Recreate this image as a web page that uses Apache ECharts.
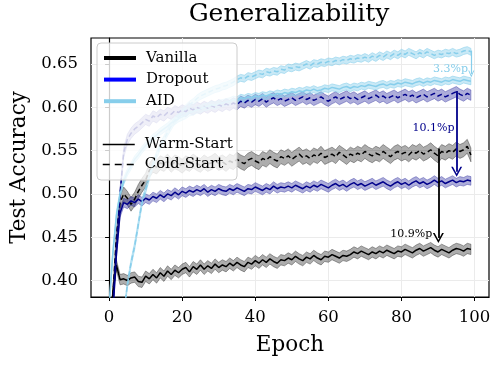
<!DOCTYPE html>
<html>
<head>
    <meta charset="utf-8">
    <title>Generalizability</title>
    <script src="https://cdn.jsdelivr.net/npm/echarts@6/dist/echarts.min.js"></script>
    <style>
        html, body { margin: 0; padding: 0; background: #fff; }
        #chart { width: 499px; height: 365px; }
    </style>
</head>
<body>
<div id="chart"></div>
<script>
    // epochs 0..99
    var epochs = [];
    for (var e = 0; e < 100; e++) epochs.push(e);

    var xTicks = [0, 20, 40, 60, 80, 100];
    var yTicks = [0.40, 0.45, 0.50, 0.55, 0.60, 0.65];

    // Vanilla, warm-start
    var vanillaWarm = [0.300,0.385,0.418,0.401,0.402,0.400,0.403,0.404,0.399,0.398,
        0.405,0.402,0.407,0.403,0.409,0.405,0.411,0.407,0.412,0.409,
        0.413,0.415,0.410,0.416,0.413,0.418,0.413,0.417,0.414,0.419,
        0.415,0.418,0.416,0.420,0.417,0.421,0.418,0.416,0.421,0.419,
        0.423,0.420,0.424,0.421,0.425,0.422,0.420,0.424,0.423,0.426,
        0.424,0.428,0.425,0.423,0.427,0.425,0.429,0.426,0.424,0.428,
        0.427,0.430,0.428,0.426,0.429,0.428,0.430,0.433,0.431,0.434,
        0.432,0.430,0.433,0.431,0.434,0.432,0.435,0.433,0.431,0.434,
        0.433,0.436,0.434,0.432,0.435,0.437,0.434,0.436,0.438,0.435,
        0.433,0.436,0.434,0.432,0.435,0.437,0.436,0.434,0.437,0.436];
    // Vanilla, cold-start
    var vanillaCold = [0.300,0.380,0.450,0.490,0.500,0.495,0.488,0.494,0.503,0.510,
        0.516,0.527,0.533,0.531,0.536,0.534,0.538,0.533,0.537,0.535,
        0.532,0.536,0.534,0.538,0.535,0.533,0.537,0.534,0.536,0.539,
        0.535,0.537,0.534,0.538,0.536,0.540,0.537,0.535,0.539,0.541,
        0.538,0.536,0.541,0.539,0.543,0.540,0.538,0.543,0.541,0.544,
        0.540,0.543,0.546,0.542,0.544,0.541,0.545,0.543,0.547,0.542,
        0.544,0.546,0.543,0.548,0.545,0.542,0.546,0.544,0.547,0.545,
        0.549,0.546,0.544,0.547,0.545,0.549,0.546,0.543,0.547,0.549,
        0.546,0.548,0.545,0.549,0.547,0.550,0.546,0.548,0.551,0.547,
        0.544,0.549,0.547,0.550,0.548,0.552,0.549,0.551,0.555,0.545];
    // Dropout, warm-start
    var dropoutWarm = [0.300,0.360,0.430,0.478,0.490,0.488,0.492,0.490,0.494,0.491,
        0.495,0.493,0.497,0.495,0.499,0.496,0.500,0.498,0.502,0.499,
        0.503,0.501,0.504,0.502,0.505,0.503,0.506,0.502,0.505,0.503,
        0.506,0.504,0.503,0.506,0.504,0.507,0.505,0.503,0.506,0.505,
        0.508,0.506,0.504,0.507,0.505,0.509,0.506,0.508,0.507,0.509,
        0.507,0.510,0.508,0.506,0.509,0.507,0.510,0.508,0.511,0.509,
        0.507,0.510,0.512,0.509,0.511,0.508,0.511,0.513,0.510,0.512,
        0.509,0.511,0.513,0.510,0.512,0.514,0.511,0.509,0.512,0.514,
        0.511,0.513,0.510,0.513,0.515,0.512,0.514,0.511,0.513,0.516,
        0.513,0.515,0.512,0.514,0.516,0.513,0.515,0.514,0.516,0.515];
    // Dropout, cold-start
    var dropoutCold = [0.300,0.370,0.440,0.500,0.548,0.563,0.570,0.575,0.578,0.582,
        0.586,0.584,0.590,0.588,0.592,0.590,0.594,0.592,0.596,0.594,
        0.597,0.595,0.599,0.597,0.600,0.598,0.601,0.599,0.602,0.600,
        0.603,0.601,0.604,0.602,0.605,0.603,0.607,0.605,0.608,0.606,
        0.609,0.607,0.610,0.606,0.609,0.611,0.608,0.610,0.607,0.609,
        0.611,0.608,0.610,0.612,0.609,0.611,0.608,0.610,0.612,0.609,
        0.607,0.610,0.612,0.609,0.611,0.613,0.610,0.612,0.609,0.611,
        0.613,0.610,0.612,0.614,0.611,0.613,0.610,0.612,0.614,0.611,
        0.613,0.615,0.612,0.614,0.611,0.613,0.615,0.612,0.614,0.616,
        0.613,0.615,0.612,0.614,0.616,0.618,0.615,0.613,0.616,0.614];
    // AID, warm-start
    var aidWarm = [0.370,0.430,0.475,0.500,0.515,0.525,0.532,0.540,0.545,0.551,
        0.556,0.560,0.565,0.568,0.572,0.575,0.578,0.582,0.584,0.587,
        0.589,0.591,0.594,0.595,0.597,0.598,0.600,0.601,0.603,0.602,
        0.604,0.605,0.606,0.607,0.609,0.608,0.611,0.610,0.612,0.611,
        0.613,0.612,0.614,0.613,0.615,0.614,0.616,0.615,0.617,0.616,
        0.618,0.617,0.619,0.618,0.620,0.619,0.621,0.619,0.620,0.622,
        0.621,0.623,0.622,0.621,0.623,0.624,0.622,0.624,0.623,0.625,
        0.624,0.626,0.625,0.624,0.626,0.627,0.625,0.627,0.626,0.628,
        0.627,0.629,0.628,0.627,0.629,0.630,0.628,0.630,0.629,0.631,
        0.630,0.629,0.631,0.630,0.632,0.631,0.630,0.632,0.631,0.630];
    // AID, cold-start
    var aidCold = [0.250,0.270,0.290,0.320,0.360,0.395,0.420,0.440,0.465,0.490,
        0.505,0.520,0.533,0.545,0.555,0.563,0.571,0.578,0.585,0.590,
        0.595,0.599,0.603,0.606,0.610,0.613,0.615,0.617,0.619,0.621,
        0.622,0.624,0.625,0.627,0.629,0.632,0.634,0.633,0.636,0.635,
        0.637,0.639,0.638,0.641,0.640,0.642,0.641,0.644,0.643,0.646,
        0.645,0.647,0.646,0.648,0.650,0.648,0.651,0.650,0.652,0.651,
        0.653,0.652,0.654,0.653,0.655,0.654,0.656,0.655,0.657,0.656,
        0.658,0.656,0.659,0.657,0.660,0.658,0.661,0.659,0.662,0.660,
        0.663,0.661,0.664,0.662,0.660,0.663,0.661,0.664,0.662,0.660,
        0.662,0.661,0.663,0.662,0.664,0.662,0.663,0.665,0.666,0.664];

    // half width of shaded band, per curve
    var bandStd = [0.006, 0.008, 0.005, 0.006, 0.004, 0.004];

    // gap annotations: [epoch, from, to, text, textEpoch, textY]
    var gapArrows = [
        [99.1, 0.6655, 0.6385, '3.3%p', 98.2, 0.6437],
        [95.1, 0.6187, 0.5255, '10.1%p', 94.5, 0.5755],
        [90.1, 0.5525, 0.4490, '10.9%p', 88.4, 0.4539]
    ];

    var FONT = "'DejaVu Serif', 'Liberation Serif', serif";
    var curves = [
        { data: vanillaWarm, line: '#000000', dash: 'solid', fill: 'rgba(0,0,0,0.32)', edge: 'rgba(0,0,0,0.42)' },
        { data: vanillaCold, line: '#000000', dash: [5, 3], fill: 'rgba(0,0,0,0.32)', edge: 'rgba(0,0,0,0.42)' },
        { data: dropoutWarm, line: '#00008b', dash: 'solid', fill: 'rgba(0,0,139,0.32)', edge: 'rgba(0,0,139,0.4)' },
        { data: dropoutCold, line: '#00008b', dash: [5, 3], fill: 'rgba(0,0,139,0.32)', edge: 'rgba(0,0,139,0.4)' },
        { data: aidWarm, line: '#87ceeb', dash: 'solid', fill: 'rgba(135,206,235,0.45)', edge: 'rgba(135,206,235,0.7)' },
        { data: aidCold, line: '#87ceeb', dash: [5, 3], fill: 'rgba(135,206,235,0.45)', edge: 'rgba(135,206,235,0.7)' }
    ];

    var series = [];
    // shaded bands (mean +- std) drawn as polygons through the axis scales
    curves.forEach(function(c, k) {
        var sd = bandStd[k];
        series.push({
            type: 'custom', silent: true, clip: true, z: 1,
            data: [[0, 0.5]],
            renderItem: function(params, api) {
                var pts = [];
                for (var i = 0; i < epochs.length; i++) pts.push(api.coord([epochs[i], c.data[i] + sd]));
                for (var j = epochs.length - 1; j >= 0; j--) pts.push(api.coord([epochs[j], c.data[j] - sd]));
                return {
                    type: 'polygon',
                    shape: { points: pts },
                    style: { fill: c.fill, stroke: c.edge, lineWidth: 0.8 }
                };
            }
        });
    });
    // mean lines
    curves.forEach(function(c) {
        series.push({
            type: 'line', symbol: 'none', silent: true, z: 2,
            lineStyle: { color: c.line, width: 1.5, type: c.dash },
            data: epochs.map(function(ep, i) { return [ep, c.data[i]]; })
        });
    });

    // legend-only series
    var legendItems = [
        ['Vanilla', '#000000', 4, 'solid'],
        ['Dropout', '#0000ff', 4, 'solid'],
        ['AID', '#87ceeb', 4, 'solid'],
        ['Warm-Start', '#000000', 1.5, 'solid'],
        ['Cold-Start', '#000000', 1.5, [7, 5]]
    ];
    legendItems.forEach(function(it) {
        series.push({
            name: it[0], type: 'line', symbol: 'none', data: [],
            color: it[1],
            lineStyle: { color: it[1], width: it[2], type: it[3] }
        });
    });
    function legendData(from, to) {
        return legendItems.slice(from, to).map(function(it) {
            return {
                name: it[0],
                itemStyle: { opacity: 0, borderWidth: 0 },
                lineStyle: { color: it[1], width: it[2], type: it[3], opacity: 1 }
            };
        });
    }

    // arrows + texts
    var arrowColors = ['#87ceeb', '#00008b', '#000000'];
    var arrowHead = 'path://M0,10 L5,0 L10,10 L8.4,10 L5,3.2 L1.6,10 Z';
    series.push({
        type: 'line', data: [], silent: true, z: 5,
        markLine: {
            silent: true, animation: false,
            symbol: ['none', arrowHead],
            label: { show: false },
            data: gapArrows.map(function(a, k) {
                var big = k > 0;
                return [
                    { coord: [a[0], a[1]], lineStyle: { color: arrowColors[k], width: big ? 1.8 : 1.2, type: 'solid' } },
                    { coord: [a[0], a[2]], symbolSize: big ? [11, 10] : [6, 7] }
                ];
            })
        },
        markPoint: {
            silent: true, animation: false,
            symbol: 'circle', symbolSize: 0,
            data: gapArrows.map(function(a, k) {
                return {
                    coord: [a[4], a[5]],
                    label: {
                        show: true, formatter: a[3], position: 'inside',
                        align: 'right', verticalAlign: 'middle',
                        color: arrowColors[k], fontFamily: FONT, fontSize: 11
                    }
                };
            })
        }
    });

    var legendText = { fontFamily: FONT, fontSize: 15, color: '#000', lineHeight: 17, padding: [0, 0, 0, 5] };
    var chart = echarts.init(document.getElementById('chart'), null, { renderer: 'canvas' });
    var option = {
        animation: false,
        backgroundColor: '#ffffff',
        title: {
            text: 'Generalizability',
            left: 289, top: 2, textAlign: 'center', padding: 0,
            textStyle: { fontFamily: FONT, fontSize: 25, fontWeight: 'normal', color: '#000' }
        },
        grid: {
            left: 89, top: 38, right: 10, bottom: 68,
            show: true, borderColor: '#000', borderWidth: 1.2, backgroundColor: 'transparent'
        },
        legend: [{
            orient: 'vertical', left: 102, top: 49.5, padding: 0,
            itemWidth: 32, itemHeight: 14, itemGap: 4.6,
            selectedMode: false, z: 10,
            data: legendData(0, 3),
            textStyle: legendText
        }, {
            orient: 'vertical', left: 102, top: 136, padding: 0,
            itemWidth: 32, itemHeight: 14, itemGap: 3,
            selectedMode: false, z: 10,
            data: legendData(3, 5),
            textStyle: legendText
        }],
        graphic: {
            elements: [{
                type: 'rect', z: 3, silent: true,
                shape: { x: 97, y: 43, width: 140, height: 137, r: 4 },
                style: { fill: 'rgba(255,255,255,0.8)', stroke: '#cccccc', lineWidth: 1 }
            }]
        },
        xAxis: {
            type: 'value', min: -4.95, max: 103.95,
            name: 'Epoch', nameLocation: 'middle', nameGap: 37,
            nameTextStyle: { fontFamily: FONT, fontSize: 21.5, color: '#000' },
            axisLine: { show: true, lineStyle: { color: '#000', width: 1.2 } },
            axisTick: { show: true, inside: false, length: 4, customValues: xTicks, lineStyle: { color: '#000' } },
            axisLabel: { customValues: xTicks, margin: 12, fontFamily: FONT, fontSize: 16.5, color: '#000' },
            splitLine: { show: true, lineStyle: { color: '#ebebeb', width: 1 } }
        },
        yAxis: {
            type: 'value', min: 0.381, max: 0.680,
            name: 'Test Accuracy', nameLocation: 'middle', nameGap: 61, nameRotate: 90,
            nameTextStyle: { fontFamily: FONT, fontSize: 21.5, color: '#000' },
            axisLine: { show: true, lineStyle: { color: '#000', width: 1.2 } },
            axisTick: { show: true, inside: false, length: 4, customValues: yTicks, lineStyle: { color: '#000' } },
            axisLabel: {
                customValues: yTicks, margin: 13, fontFamily: FONT, fontSize: 16.5, color: '#000',
                formatter: function(v) { return v.toFixed(2); }
            },
            splitLine: { show: true, lineStyle: { color: '#ebebeb', width: 1 } }
        },
        series: series
    };
    chart.setOption(option);
</script>
</body>
</html>
